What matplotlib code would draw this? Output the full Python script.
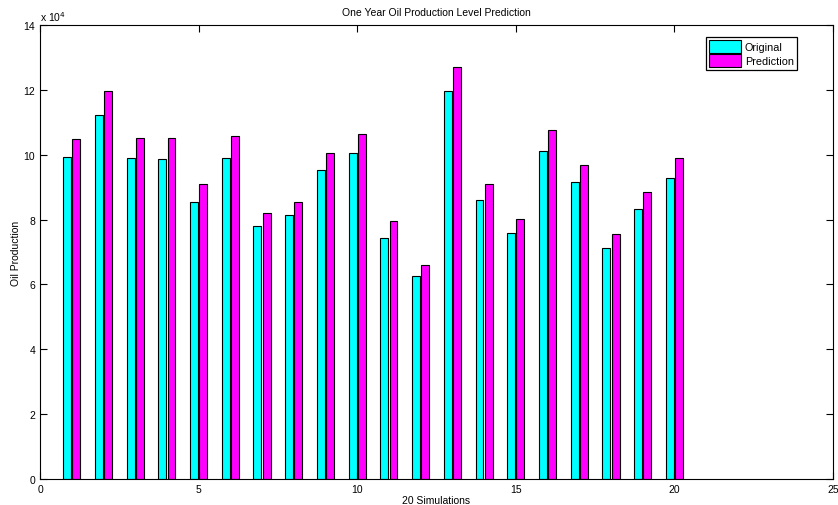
import matplotlib.pyplot as plt
import numpy as np
from matplotlib.ticker import FuncFormatter

plt.rcParams['font.family'] = ['Liberation Sans', 'DejaVu Sans']

# 20 simulations, oil production values
sims = np.arange(1, 21)
original = [99300, 112100, 98900, 98800, 85300, 99100, 77900, 81300, 95400, 100500,
            74200, 62500, 119700, 86100, 75900, 101200, 91600, 71100, 83300, 92800]
prediction = [105000, 119600, 105300, 105300, 90900, 105700, 82100, 85400, 100600, 106300,
              79500, 65900, 126900, 90900, 80200, 107500, 96700, 75700, 88400, 99000]

fig = plt.figure(figsize=(8.38, 5.06), dpi=100)
ax = fig.add_axes([40 / 838, 1 - 480 / 506, 793 / 838, 454 / 506])

w = 0.25
off = 0.145
ax.bar(sims - off, original, w, color='#00ffff', edgecolor='black', linewidth=0.8, label='Original')
ax.bar(sims + off, prediction, w, color='#ff00ff', edgecolor='black', linewidth=0.8, label='Prediction')

ax.set_xlim(0, 25)
ax.set_ylim(0, 140000)
ax.set_xticks([0, 5, 10, 15, 20, 25])
ax.set_yticks(np.arange(0, 140001, 20000))
ax.yaxis.set_major_formatter(FuncFormatter(lambda v, p: '%d' % round(v / 1e4)))
ax.tick_params(direction='in', top=True, right=True, labelsize=7.5, length=5, width=0.8)
for s in ax.spines.values():
    s.set_linewidth(0.8)

ax.text(0, 1.005, r'x 10$^4$', transform=ax.transAxes, fontsize=7.5, ha='left', va='bottom')
ax.set_title('One Year Oil Production Level Prediction', fontsize=7.5, pad=7)
ax.set_xlabel('20 Simulations', fontsize=7.5, labelpad=1)
ax.set_ylabel('Oil Production', fontsize=7.5, labelpad=2)

leg = ax.legend(loc='upper right', bbox_to_anchor=(0.9546, 0.974), fontsize=7.8,
                fancybox=False, edgecolor='black', framealpha=1,
                handlelength=3.0, handleheight=1.4, borderpad=0.3, labelspacing=0.15,
                handletextpad=0.3, borderaxespad=0)
leg.get_frame().set_linewidth(0.9)

fig.savefig('out.png', dpi=100)
